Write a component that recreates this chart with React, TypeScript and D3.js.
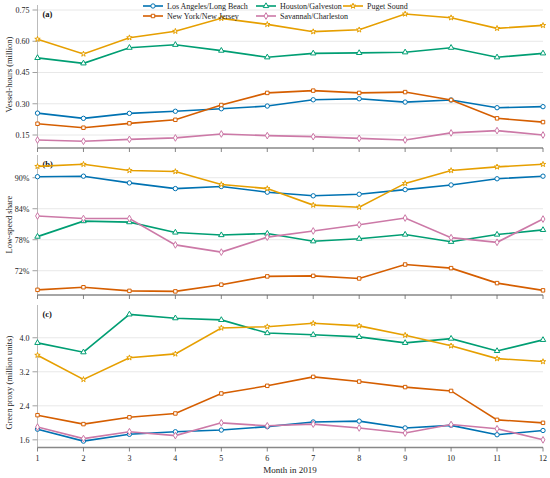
import * as d3 from "d3";

// months
const months = [1, 2, 3, 4, 5, 6, 7, 8, 9, 10, 11, 12];

const ports = [
  "Los Angeles/Long Beach",
  "Houston/Galveston",
  "Puget Sound",
  "New York/New Jersey",
  "Savannah/Charleston",
];

const colors = ["#0072B2", "#009E73", "#E69F00", "#D55E00", "#CC79A7"];

// (a) vessel-hours, million
const hoursLA = [0.255, 0.23, 0.254, 0.264, 0.276, 0.289, 0.319, 0.324, 0.308, 0.318, 0.281, 0.286];
const hoursHOU = [0.52, 0.494, 0.569, 0.583, 0.555, 0.523, 0.542, 0.544, 0.547, 0.569, 0.523, 0.542];
const hoursPUG = [0.61, 0.539, 0.617, 0.648, 0.71, 0.681, 0.646, 0.655, 0.731, 0.713, 0.662, 0.676];
const hoursNY = [0.204, 0.185, 0.206, 0.223, 0.294, 0.352, 0.363, 0.352, 0.356, 0.318, 0.23, 0.212];
const hoursSAV = [0.126, 0.12, 0.129, 0.136, 0.155, 0.147, 0.142, 0.134, 0.126, 0.16, 0.171, 0.15];

// (b) low-speed share, %
const shareLA = [90.2, 90.3, 89.0, 87.9, 88.3, 87.2, 86.5, 86.8, 87.7, 88.6, 89.8, 90.3];
const shareHOU = [78.6, 81.6, 81.4, 79.4, 78.9, 79.2, 77.7, 78.2, 79.0, 77.6, 79.0, 79.9];
const sharePUG = [92.2, 92.6, 91.4, 91.2, 88.7, 87.9, 84.7, 84.3, 88.9, 91.4, 92.1, 92.6];
const shareNY = [68.3, 68.8, 68.1, 68.0, 69.3, 70.9, 71.0, 70.5, 73.2, 72.5, 69.6, 68.2];
const shareSAV = [82.6, 82.1, 82.1, 77.0, 75.6, 78.5, 79.7, 80.9, 82.2, 78.4, 77.5, 82.0];

// (c) green proxy, million units
const greenLA = [1.85, 1.57, 1.73, 1.79, 1.83, 1.91, 2.02, 2.04, 1.88, 1.94, 1.72, 1.82];
const greenHOU = [3.88, 3.66, 4.55, 4.46, 4.42, 4.11, 4.07, 4.02, 3.88, 3.98, 3.69, 3.95];
const greenPUG = [3.59, 3.02, 3.53, 3.62, 4.23, 4.26, 4.34, 4.28, 4.06, 3.81, 3.51, 3.44];
const greenNY = [2.18, 1.97, 2.13, 2.22, 2.69, 2.87, 3.08, 2.97, 2.84, 2.75, 2.07, 2.0];
const greenSAV = [1.9, 1.63, 1.79, 1.7, 2.0, 1.93, 1.97, 1.88, 1.76, 1.96, 1.86, 1.6];

const ticksA = [0.15, 0.3, 0.45, 0.6, 0.75];
const ticksB = [72, 78, 84, 90];
const ticksC = [1.6, 2.4, 3.2, 4.0];

const W = 550;
const H = 478;
const FONT = "Liberation Serif, Times New Roman, DejaVu Serif, serif";
const symbols = [d3.symbolCircle, d3.symbolTriangle, d3.symbolStar, d3.symbolSquare, d3.symbolDiamond];
const symSizes = [15, 13, 9, 12, 13];

const x = d3.scaleLinear().domain([1, 12]).range([37.5, 543]);

const panels = [
  {
    label: "(a)",
    title: "Vessel-hours (million)",
    series: [hoursLA, hoursHOU, hoursPUG, hoursNY, hoursSAV],
    y: d3.scaleLinear().domain([0.0876, 0.774]).range([148, 5]),
    ticks: ticksA,
    fmt: (v: number) => d3.format(".2f")(v),
    showX: false,
  },
  {
    label: "(b)",
    title: "Low-speed share",
    series: [shareLA, shareHOU, sharePUG, shareNY, shareSAV],
    y: d3.scaleLinear().domain([67.3, 94.4]).range([295, 155]),
    ticks: ticksB,
    fmt: (v: number) => `${v}%`,
    showX: false,
  },
  {
    label: "(c)",
    title: "Green proxy (million units)",
    series: [greenLA, greenHOU, greenPUG, greenNY, greenSAV],
    y: d3.scaleLinear().domain([1.42, 4.77]).range([447.5, 305]),
    ticks: ticksC,
    fmt: (v: number) => d3.format(".1f")(v),
    showX: true,
  },
];

function Panel({ p }: { p: (typeof panels)[number] }) {
  const [bottom, top] = p.y.range();
  const [x0, x1] = x.range();
  const line = d3
    .line<number>()
    .x((_, i) => x(months[i]))
    .y((d) => p.y(d));
  // centre the title on the tick span
  const tickMid = (p.y(p.ticks[0]) + p.y(p.ticks[p.ticks.length - 1])) / 2;
  const titleY = (tickMid + (top + bottom) / 2) / 2;
  return (
    <g>
      {p.ticks.map((t) => (
        <g key={t}>
          <line x1={x0} x2={x1} y1={p.y(t)} y2={p.y(t)} stroke="#e8e8e8" strokeWidth={1} />
          <line x1={x0 - 5} x2={x0} y1={p.y(t)} y2={p.y(t)} stroke="#888" strokeWidth={0.8} />
          <text x={x0 - 8} y={p.y(t)} dy="0.35em" textAnchor="end" fontSize={8} fill="#222">
            {p.fmt(t)}
          </text>
        </g>
      ))}
      <line x1={x0} x2={x0} y1={top} y2={bottom} stroke="#aaa" strokeWidth={0.8} />
      <line x1={x0} x2={x1} y1={bottom} y2={bottom} stroke="#888" strokeWidth={1.6} />
      {months.map((m) => (
        <g key={m}>
          <line x1={x(m)} x2={x(m)} y1={bottom} y2={bottom + 4} stroke="#666" strokeWidth={0.8} />
          {p.showX && (
            <text x={x(m)} y={bottom + 13} textAnchor="middle" fontSize={8} fill="#222">
              {m}
            </text>
          )}
        </g>
      ))}
      <text
        transform={`translate(12,${titleY}) rotate(-90)`}
        textAnchor="middle"
        fontSize={8.5}
        fill="#222"
      >
        {p.title}
      </text>
      <text x={x0 + 5} y={top + 12} fontSize={8.5} fontWeight="bold" fill="#111">
        {p.label}
      </text>
      {p.series.map((s, k) => (
        <g key={k}>
          <path d={line(s) || ""} fill="none" stroke={colors[k]} strokeWidth={1.6} />
          {s.map((v, i) => (
            <path
              key={i}
              transform={`translate(${x(months[i])},${p.y(v)})`}
              d={d3.symbol(symbols[k], symSizes[k])() || ""}
              fill="#fff"
              stroke={colors[k]}
              strokeWidth={1}
            />
          ))}
        </g>
      ))}
    </g>
  );
}

// legend order: row 1 LA, Houston, Puget; row 2 NY, Savannah
const legendPos = [
  [143, 6],
  [256, 6],
  [343, 6],
  [143, 16],
  [256, 16],
];

export default function App() {
  return (
    <svg
      width={W}
      height={H}
      style={{ position: "absolute", left: 0, top: 0, background: "#fff", fontFamily: FONT }}
    >
      {panels.map((p) => (
        <Panel key={p.label} p={p} />
      ))}
      {ports.map((name, k) => {
        const [lx, ly] = legendPos[k];
        return (
          <g key={name} transform={`translate(${lx},${ly})`}>
            <line x1={0} x2={20} y1={0} y2={0} stroke={colors[k]} strokeWidth={1.6} />
            <path
              transform="translate(10,0)"
              d={d3.symbol(symbols[k], symSizes[k])() || ""}
              fill="#fff"
              stroke={colors[k]}
              strokeWidth={1}
            />
            <text x={24} y={0} dy="0.35em" fontSize={8} fill="#222">
              {name}
            </text>
          </g>
        );
      })}
      <text x={290} y={473} textAnchor="middle" fontSize={9} fill="#222">
        Month in 2019
      </text>
    </svg>
  );
}
